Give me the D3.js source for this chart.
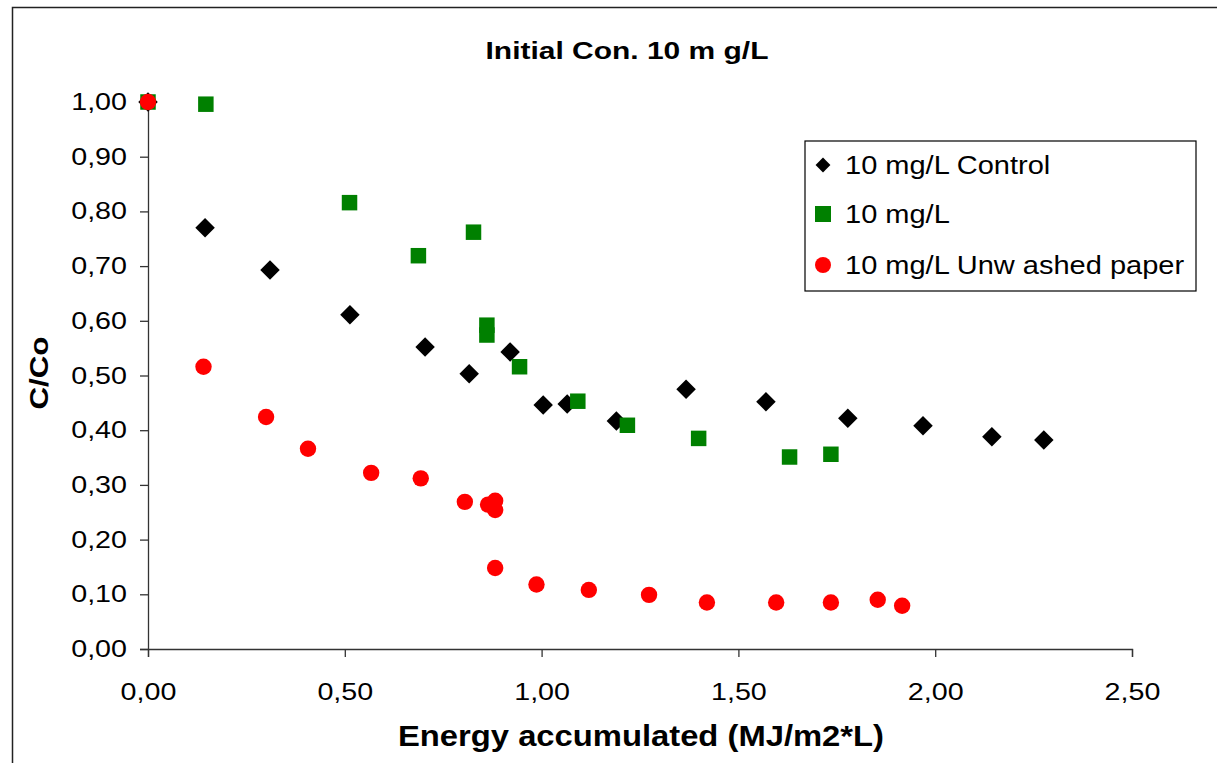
<!DOCTYPE html>
<html><head><meta charset="utf-8">
<script src="https://cdn.jsdelivr.net/npm/d3@7"></script>
<style>body{margin:0;background:#fff}svg{display:block}text{font-family:"Liberation Sans",Arial,sans-serif}</style>
</head><body>
<script>
const title = "Initial Con. 10 m g/L";
const xLabel = "Energy accumulated (MJ/m2*L)";
const yLabel = "C/Co";
const xTicks = [0, 0.5, 1.0, 1.5, 2.0, 2.5];
const yTicks = [0, 0.1, 0.2, 0.3, 0.4, 0.5, 0.6, 0.7, 0.8, 0.9, 1.0];
const seriesNames = ["10 mg/L Control", "10 mg/L", "10 mg/L Unw ashed paper"];

const controlX = [0, 0.145, 0.31, 0.513, 0.704, 0.816, 0.92, 1.004, 1.065, 1.19, 1.367, 1.57, 1.778, 1.969, 2.144, 2.276];
const controlY = [1.00, 0.770, 0.693, 0.611, 0.552, 0.503, 0.543, 0.446, 0.448, 0.417, 0.475, 0.452, 0.422, 0.408, 0.388, 0.382];

const paperX = [0, 0.147, 0.512, 0.687, 0.827, 0.861, 0.861, 0.944, 1.092, 1.218, 1.399, 1.630, 1.735];
const paperY = [1.00, 0.996, 0.816, 0.719, 0.762, 0.592, 0.574, 0.516, 0.453, 0.409, 0.385, 0.351, 0.356];

const unwashedX = [0, 0.141, 0.300, 0.4065, 0.567, 0.693, 0.805, 0.864, 0.882, 0.882, 0.882, 0.987, 1.120, 1.273, 1.420, 1.596, 1.735, 1.854, 1.916];
const unwashedY = [1.00, 0.516, 0.424, 0.366, 0.322, 0.312, 0.269, 0.264, 0.271, 0.254, 0.148, 0.118, 0.108, 0.099, 0.085, 0.085, 0.085, 0.090, 0.079];

const W = 1217, H = 763;
const svg = d3.select("body").append("svg").attr("width", W).attr("height", H);

// stretch text horizontally (the original renders glyphs wider than normal)
function stretch(sel, factor) {
  sel.each(function () {
    const len = this.getComputedTextLength();
    d3.select(this).attr("textLength", len * factor).attr("lengthAdjust", "spacingAndGlyphs");
  });
}

// outer border (top & left visible)
svg.append("rect").attr("x", 12.5).attr("y", 7.5).attr("width", W + 20).attr("height", H + 20)
  .attr("fill", "none").attr("stroke", "#222").attr("stroke-width", 1.5);

const x = d3.scaleLinear().domain([0, 2.5]).range([148, 1132]);
const y = d3.scaleLinear().domain([0, 1]).range([649, 102]);
const fmt = v => d3.format(".2f")(v).replace(".", ",");

const xAxis = svg.append("g").attr("transform", "translate(0,649)")
  .call(d3.axisBottom(x).tickValues(xTicks).tickFormat(fmt).tickSize(8).tickPadding(26));
const yAxis = svg.append("g").attr("transform", "translate(148,0)")
  .call(d3.axisLeft(y).tickValues(yTicks).tickFormat(fmt).tickSize(8).tickPadding(13));
[xAxis, yAxis].forEach(a => {
  a.select(".domain").attr("stroke", "#333").attr("stroke-width", 1.3);
  a.selectAll(".tick line").attr("stroke", "#333").attr("stroke-width", 1.3);
  a.selectAll(".tick text").attr("font-size", 23.5).attr("fill", "#000")
   .attr("font-family", '"Liberation Sans",Arial,sans-serif');
  stretch(a.selectAll(".tick text"), 1.22);
});
xAxis.selectAll(".tick text").attr("dy", "0.71em");

// titles
svg.append("text").attr("x", 627).attr("y", 59).attr("text-anchor", "middle")
  .attr("font-size", 24).attr("font-weight", "bold").text(title)
  .call(s => s.attr("textLength", 283).attr("lengthAdjust", "spacingAndGlyphs"));
svg.append("text").attr("x", 641).attr("y", 746).attr("text-anchor", "middle")
  .attr("font-size", 29).attr("font-weight", "bold").text(xLabel)
  .call(s => s.attr("textLength", 486).attr("lengthAdjust", "spacingAndGlyphs"));
svg.append("text").attr("transform", "translate(48,373) rotate(-90)").attr("text-anchor", "middle")
  .attr("font-size", 26).attr("font-weight", "bold").text(yLabel)
  .call(s => s.attr("textLength", 73).attr("lengthAdjust", "spacingAndGlyphs"));

const diamond = d3.symbol().type(d3.symbolSquare).size(190)();
const square = d3.symbol().type(d3.symbolSquare).size(240)();

// series: control diamonds, paper squares, unwashed circles
svg.append("g").selectAll("path").data(d3.zip(controlX, controlY)).join("path")
  .attr("d", diamond).attr("fill", "#000")
  .attr("transform", d => `translate(${x(d[0])},${y(d[1])}) rotate(45)`);
svg.append("g").selectAll("path").data(d3.zip(paperX, paperY)).join("path")
  .attr("d", square).attr("fill", "#008000")
  .attr("transform", d => `translate(${x(d[0])},${y(d[1])})`);
svg.append("g").selectAll("circle").data(d3.zip(unwashedX, unwashedY)).join("circle")
  .attr("cx", d => x(d[0])).attr("cy", d => y(d[1])).attr("r", 8.2).attr("fill", "#ff0000");

// legend
const lg = svg.append("g");
lg.append("rect").attr("x", 805).attr("y", 141).attr("width", 391).attr("height", 150)
  .attr("fill", "#fff").attr("stroke", "#000").attr("stroke-width", 1.2);
const ly = [165, 214, 265];
lg.append("path").attr("d", d3.symbol().type(d3.symbolSquare).size(110)())
  .attr("transform", `translate(823,${ly[0]}) rotate(45)`).attr("fill", "#000");
lg.append("path").attr("d", d3.symbol().type(d3.symbolSquare).size(256)())
  .attr("transform", `translate(823,${ly[1]})`).attr("fill", "#008000");
lg.append("circle").attr("cx", 823).attr("cy", ly[2]).attr("r", 8).attr("fill", "#ff0000");
const lt = lg.selectAll("text.l").data(seriesNames).join("text").attr("class", "l")
  .attr("x", 845).attr("y", (d, i) => ly[i]).attr("dy", "0.36em")
  .attr("font-size", 25).attr("fill", "#000").text(d => d);
stretch(lt, 1.16);
</script>
</body></html>
